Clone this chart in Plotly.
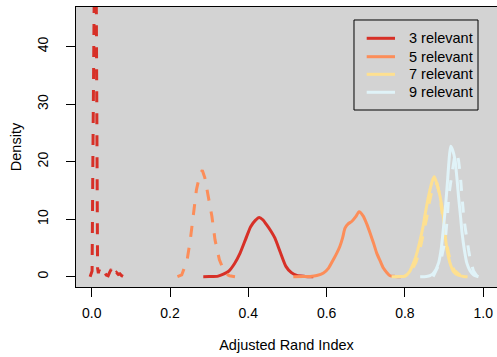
import plotly.graph_objects as go

# Density curves of the Adjusted Rand Index, one pair (solid / dashed) per setting
groups = ["3 relevant", "5 relevant", "7 relevant", "9 relevant"]
colors = ["#D73027", "#FC8D59", "#FEE090", "#E0F3F8"]

# 3 relevant
ari_3_solid = [0.285, 0.300, 0.323, 0.349, 0.365, 0.379, 0.393, 0.406, 0.418, 0.428,
               0.437, 0.447, 0.458, 0.468, 0.482, 0.496, 0.510, 0.524, 0.545, 0.566]
dens_3_solid = [0.0, 0.02, 0.1, 0.9, 2.3, 4.1, 6.5, 8.7, 9.8, 10.3,
                9.9, 9.0, 7.9, 6.7, 4.2, 1.8, 0.7, 0.2, 0.05, 0.0]
ari_3_dash = [-0.004, 0.001, 0.003, 0.005, 0.008, 0.011, 0.0125, 0.0135, 0.015, 0.017,
              0.019, 0.022, 0.025, 0.029, 0.033, 0.037, 0.042, 0.046, 0.050, 0.054,
              0.058, 0.063, 0.068, 0.072, 0.076, 0.080]
dens_3_dash = [0.0, 1.0, 20.0, 45.0, 62.0, 58.0, 40.0, 8.0, 1.5, 0.6,
               1.2, 0.5, 0.17, 0.5, 0.75, 0.3, 0.17, 0.8, 1.3, 0.17,
               0.4, 0.75, 0.4, 0.5, 0.2, 0.05]

# 5 relevant
ari_5_solid = [0.515, 0.540, 0.558, 0.575, 0.592, 0.605, 0.617, 0.626, 0.634, 0.641,
               0.647, 0.655, 0.664, 0.674, 0.683, 0.694, 0.703, 0.711, 0.720, 0.728,
               0.737, 0.745, 0.754, 0.762, 0.775, 0.790]
dens_5_solid = [0.0, 0.02, 0.05, 0.2, 0.64, 1.5, 2.95, 4.1, 5.3, 6.8,
                8.45, 9.2, 9.6, 10.4, 11.3, 10.5, 9.1, 7.6, 5.8, 4.1,
                2.7, 1.5, 0.7, 0.17, 0.05, 0.0]
ari_5_dash = [0.219, 0.230, 0.238, 0.244, 0.252, 0.259, 0.2675, 0.276, 0.2825, 0.289,
              0.297, 0.307, 0.315, 0.326, 0.340, 0.352, 0.366]
dens_5_dash = [0.0, 0.3, 1.8, 3.0, 6.5, 10.5, 15.1, 17.7, 18.5, 17.2,
               14.5, 10.5, 6.4, 3.0, 0.6, 0.15, 0.0]

# 7 relevant
ari_7_solid = [0.766, 0.785, 0.800, 0.812, 0.822, 0.831, 0.839, 0.846, 0.852, 0.858,
               0.864, 0.870, 0.875, 0.880, 0.885, 0.890, 0.898, 0.903, 0.911, 0.917,
               0.924, 0.935, 0.950, 0.960]
dens_7_solid = [0.0, 0.02, 0.1, 0.9, 2.4, 4.2, 6.4, 8.6, 11.0, 13.2,
                15.1, 16.7, 17.4, 16.5, 15.3, 13.9, 10.5, 7.0, 3.5, 2.0,
                0.9, 0.3, 0.05, 0.0]
ari_7_dash = [0.775, 0.800, 0.815, 0.828, 0.838, 0.847, 0.855, 0.862, 0.869, 0.876,
              0.882, 0.888, 0.894, 0.900, 0.907, 0.915, 0.925, 0.940, 0.960]
dens_7_dash = [0.0, 0.1, 0.8, 2.5, 4.6, 7.2, 10.0, 12.8, 15.0, 16.3,
               16.2, 14.5, 11.8, 8.6, 5.5, 3.0, 1.2, 0.3, 0.0]

# 9 relevant
ari_9_solid = [0.839, 0.855, 0.864, 0.875, 0.886, 0.893, 0.898, 0.904, 0.909, 0.913,
               0.917, 0.922, 0.928, 0.933, 0.937, 0.942, 0.946, 0.952, 0.958, 0.966,
               0.975, 0.988]
dens_9_solid = [0.0, 0.05, 0.17, 0.8, 2.4, 5.0, 8.2, 12.5, 16.8, 20.5,
                22.7, 22.0, 20.3, 17.0, 13.9, 10.5, 7.6, 4.6, 2.4, 1.1,
                0.35, 0.0]
ari_9_dash = [0.872, 0.881, 0.888, 0.894, 0.899, 0.903, 0.908, 0.912, 0.916, 0.920,
              0.926, 0.933, 0.937, 0.941, 0.945, 0.950, 0.954, 0.958, 0.963, 0.967,
              0.975, 0.985]
dens_9_dash = [0.0, 1.2, 2.3, 3.5, 5.0, 6.4, 10.0, 14.0, 16.0, 18.0,
               20.5, 21.5, 20.2, 18.0, 14.0, 10.5, 8.5, 6.4, 4.5, 2.95,
               1.0, 0.0]

x_ticks = [0.0, 0.2, 0.4, 0.6, 0.8, 1.0]
y_ticks = [0, 10, 20, 30, 40]

curves = [
    (ari_3_solid, dens_3_solid, ari_3_dash, dens_3_dash),
    (ari_5_solid, dens_5_solid, ari_5_dash, dens_5_dash),
    (ari_7_solid, dens_7_solid, ari_7_dash, dens_7_dash),
    (ari_9_solid, dens_9_solid, ari_9_dash, dens_9_dash),
]

FONT = "Liberation Sans, Arial, Helvetica, sans-serif"
LW = 3

fig = go.Figure()
for (xs, ys, xd, yd), col, name in zip(curves, colors, groups):
    fig.add_trace(go.Scatter(x=xs, y=ys, mode="lines", name=name,
                             line=dict(color=col, width=LW, shape="spline", smoothing=0.6),
                             showlegend=False))
    fig.add_trace(go.Scatter(x=xd, y=yd, mode="lines", name=name + " (dashed)",
                             line=dict(color=col, width=LW, dash="11px,11px"),
                             showlegend=False))

# Legend box drawn in paper coordinates
fig.add_shape(type="rect", xref="paper", yref="paper",
              x0=0.6603, x1=0.9549, y0=0.6321, y1=0.9536,
              line=dict(color="black", width=1), fillcolor="#D3D3D3")
row_y = [0.8882, 0.8225, 0.7596, 0.6954]
for ry, col, name in zip(row_y, colors, groups):
    fig.add_shape(type="line", xref="paper", yref="paper",
                  x0=0.6905, x1=0.7577, y0=ry, y1=ry,
                  line=dict(color=col, width=LW))
    fig.add_annotation(xref="paper", yref="paper", x=0.7855, y=ry,
                       text=name, showarrow=False, xanchor="left", yanchor="middle",
                       font=dict(family=FONT, size=14.5, color="black"))

fig.update_layout(
    width=497, height=357,
    margin=dict(l=76, r=0, t=7, b=70),
    paper_bgcolor="white",
    plot_bgcolor="#D3D3D3",
    font=dict(family=FONT, size=14, color="black"),
    xaxis=dict(range=[-0.0401, 1.0352], tickvals=x_ticks, tickformat=".1f",
               ticks="outside", ticklen=9, tickcolor="black", tickwidth=1,
               showline=True, linecolor="black", linewidth=1, mirror=True,
               showgrid=False, zeroline=False, ticklabelstandoff=4,
               title=dict(text="Adjusted Rand Index", font=dict(size=14.5), standoff=20)),
    yaxis=dict(range=[-1.79, 46.9], tickvals=y_ticks, tickangle=-90,
               ticks="outside", ticklen=9, tickcolor="black", tickwidth=1,
               showline=True, linecolor="black", linewidth=1,
               showgrid=False, zeroline=False, ticklabelstandoff=12,
               title=dict(text="Density", font=dict(size=14.5), standoff=10)),
)

fig.write_html("out.html")
